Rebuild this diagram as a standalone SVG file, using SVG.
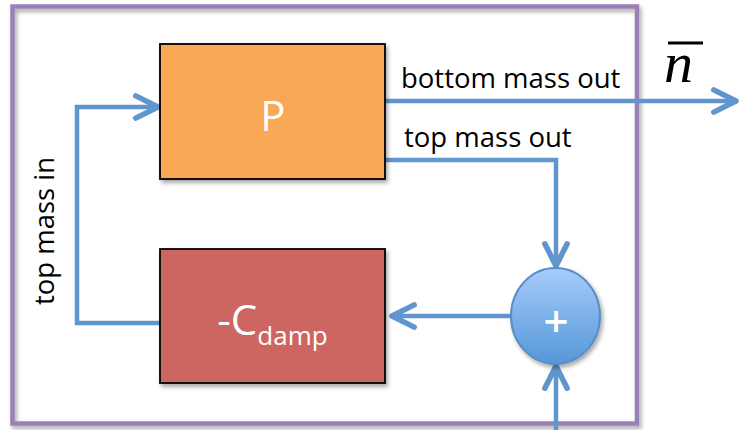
<svg xmlns="http://www.w3.org/2000/svg" width="739" height="430" viewBox="0 0 739 430">
  <style>
    .conn { fill: none; stroke: #6096cd; stroke-width: 4.5; stroke-linejoin: miter; }
    .lbl { font-family: "Open Sans", "Liberation Sans", sans-serif; font-size: 27.5px; fill: #000; }
    .box { stroke: #000; stroke-width: 1.8; }
    .boxtxt { font-family: "Open Sans", "Liberation Sans", sans-serif; fill: #fff; text-anchor: middle; }
  </style>
  <defs>
    <marker id="arr" markerUnits="userSpaceOnUse" markerWidth="40" markerHeight="40" viewBox="-30 -15 36 30" refX="0" refY="0" orient="auto">
      <path d="M -20,-10 L 0,0 L -20,10" fill="none" stroke="#6096cd" stroke-width="5" stroke-linecap="round" stroke-linejoin="round"/>
    </marker>
    <filter id="sh" x="-10%" y="-10%" width="130%" height="130%">
      <feDropShadow dx="2" dy="3" stdDeviation="2" flood-color="#000" flood-opacity="0.35"/>
    </filter>
    <linearGradient id="blue" x1="0" y1="0" x2="0" y2="1">
      <stop offset="0" stop-color="#a6ccfb"/>
      <stop offset="1" stop-color="#5597da"/>
    </linearGradient>
  </defs>

  <rect width="739" height="430" fill="#ffffff"/>

  <g id="frame">
    <rect x="12.5" y="6.5" width="624.5" height="417" fill="none" stroke="#9a80b6" stroke-width="4.5" filter="url(#sh)"/>
  </g>

  <g id="connectors">
    <path class="conn" d="M 160,323 L 77,323 L 77,107 L 158,107" marker-end="url(#arr)"/>
    <path class="conn" d="M 385,101 L 736,101" marker-end="url(#arr)"/>
    <path class="conn" d="M 385,160 L 556,160 L 556,266" marker-end="url(#arr)"/>
    <path class="conn" d="M 511,316 L 392,316" marker-end="url(#arr)"/>
    <path class="conn" d="M 556,430 L 556,366" marker-end="url(#arr)"/>
  </g>

  <g id="labels">
    <text class="lbl" x="401" y="88">bottom mass out</text>
    <text class="lbl" x="404" y="147">top mass out</text>
    <text class="lbl" text-anchor="middle" transform="translate(54,231) rotate(-90)">top mass in</text>
  </g>

  <g id="nbar">
    <text x="664" y="82" font-family="Liberation Serif, serif" font-style="italic" font-size="58" fill="#000">n</text>
    <rect x="668" y="41.5" width="35" height="3" fill="#000"/>
  </g>

  <g id="P">
    <rect class="box" x="160" y="44" width="225" height="135" fill="#f9a857" filter="url(#sh)"/>
    <text class="boxtxt" x="273" y="131" font-size="42">P</text>
  </g>

  <g id="Cdamp">
    <rect class="box" x="160" y="249" width="225" height="134" fill="#cd6660" filter="url(#sh)"/>
    <text class="boxtxt" x="272.5" y="335" font-size="42">-C<tspan font-size="26" dy="10">damp</tspan></text>
  </g>

  <g id="sum">
    <ellipse cx="555.5" cy="316" rx="44.5" ry="48" fill="url(#blue)" stroke="#5a8dc4" stroke-width="2" filter="url(#sh)"/>
    <text class="boxtxt" x="556" y="337" font-size="44" font-weight="600">+</text>
  </g>
</svg>
